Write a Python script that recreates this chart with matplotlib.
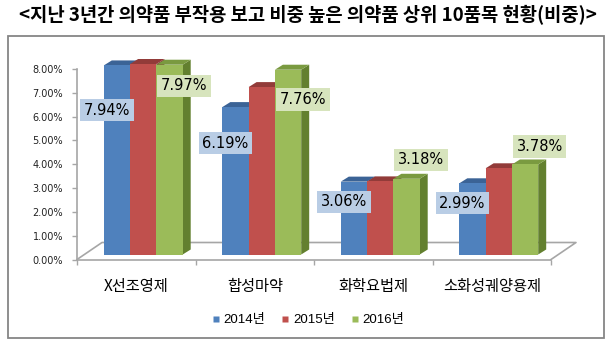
import matplotlib.pyplot as plt
from matplotlib.patches import Polygon, Rectangle
from matplotlib.lines import Line2D

# 의약품 부작용 보고 비중 (%)
categories = ['X선조영제', '합성마약', '화학요법제', '소화성궤양용제']
years = ['2014년', '2015년', '2016년']
share_2014 = [7.94, 6.19, 3.06, 2.99]
share_2015 = [8.00, 7.03, 3.07, 3.62]
share_2016 = [7.97, 7.76, 3.18, 3.78]
yticks = [0, 1, 2, 3, 4, 5, 6, 7, 8]

series = [share_2014, share_2015, share_2016]
# (앞면, 윗면, 옆면)
colors = [('#4f81bd', '#3b6396', '#345885'),
          ('#c0504d', '#923b39', '#833432'),
          ('#9bbb59', '#7a9a40', '#63802f')]
green_label_dy = [-0.68, -1.04, 1.00, 0.97]

W, H = 615, 343
fig = plt.figure(figsize=(W / 100, H / 100), dpi=100)
fig.patch.set_facecolor('white')

ax = fig.add_axes([77 / W, 1 - 259.5 / H, 474 / W, 190.5 / H])
ax.set_xlim(0, 4)
ax.set_ylim(0, 8)
ax.set_facecolor('none')

# 픽셀 -> 데이터 단위
px_x = 474 / 4
px_y = 190.5 / 8
def dx(p):
    return p / px_x
def dy(p):
    return p / px_y

grey = '#a6a6a6'

# 바닥면
fdx, fdy = dx(25), dy(17)
ax.plot([0, fdx, 4 + fdx, 4], [0, fdy, fdy, 0], color=grey, lw=1.2,
        clip_on=False, zorder=1)

# 3D 막대
bw = dx(26.3)
offx, offy = dx(7), dy(5)
ddx, ddy = dx(8), dy(5)
z = 2
for i in range(len(categories)):
    cx = i + 0.5 + offx
    for j, vals in enumerate(series):
        front, top, side = colors[j]
        x0 = cx - 1.5 * bw + j * bw
        y0 = offy
        h = vals[i]
        ax.add_patch(Polygon([(x0 + bw, y0), (x0 + bw + ddx, y0 + ddy),
                              (x0 + bw + ddx, y0 + h + ddy), (x0 + bw, y0 + h)],
                             facecolor=side, edgecolor='none', clip_on=False, zorder=z))
        ax.add_patch(Polygon([(x0, y0 + h), (x0 + bw, y0 + h),
                              (x0 + bw + ddx, y0 + h + ddy), (x0 + ddx, y0 + h + ddy)],
                             facecolor=top, edgecolor='none', clip_on=False, zorder=z))
        ax.add_patch(Rectangle((x0, y0), bw, h, facecolor=front, edgecolor='none',
                               clip_on=False, zorder=z + 0.5))
        z += 1

# 데이터 레이블 (2014, 2016)
for i in range(len(categories)):
    cx = i + 0.5 + offx
    blue_right = cx - 0.5 * bw
    ax.text(blue_right, share_2014[i] * 0.79, f'{share_2014[i]:.2f}%',
            ha='right', va='center', fontsize=10.5, color='black',
            bbox=dict(boxstyle='square,pad=0.25', fc='#b9cde5', ec='none'),
            zorder=50, clip_on=False)
    green_left = cx + 0.5 * bw
    ax.text(green_left + dx(4.6), share_2016[i] + green_label_dy[i],
            f'{share_2016[i]:.2f}%', ha='left', va='center', fontsize=10.5,
            color='black',
            bbox=dict(boxstyle='square,pad=0.25', fc='#d7e4bd', ec='none'),
            zorder=50, clip_on=False)

# 축
for s in ['top', 'right']:
    ax.spines[s].set_visible(False)
for s in ['left', 'bottom']:
    ax.spines[s].set_color(grey)
    ax.spines[s].set_linewidth(1.2)
    ax.spines[s].set_zorder(1)
ax.set_yticks(yticks, [f'{v:.2f}%' for v in yticks])
ax.tick_params(axis='y', length=3.6, width=1, color=grey, pad=6.5,
               labelsize=7, labelcolor='#222222')
ax.set_xticks([0, 1, 2, 3, 4], [])
ax.set_xticks([i + 0.5 for i in range(4)], categories, minor=True)
ax.tick_params(axis='x', which='major', length=3.6, width=1, color=grey)
ax.tick_params(axis='x', which='minor', length=0, pad=13.5, labelsize=11,
               labelcolor='black')
for lab in ax.get_xticklabels(minor=True):
    lab.set_family(['Noto Sans CJK KR', 'DejaVu Sans'])

# 범례
handles = [Line2D([], [], marker='s', ls='none', markersize=4.5,
                  markerfacecolor=c[0], markeredgecolor='none') for c in colors]
fig.legend(handles, years, loc='center', bbox_to_anchor=(308 / W, 1 - 320 / H),
           ncol=3, frameon=False, handlelength=0.6, handletextpad=0.3,
           columnspacing=1.2,
           prop={'family': ['Liberation Sans', 'Noto Sans CJK KR'], 'size': 9.5})

# 제목과 테두리
fig.text(0.5, 1 - 15 / H,
         '<지난 3년간 의약품 부작용 보고 비중 높은 의약품 상위 10품목 현황(비중)>',
         ha='center', va='center', fontsize=13.5, fontweight='bold',
         family=['Noto Sans CJK KR', 'DejaVu Sans'])
fig.add_artist(Rectangle((8 / W, 1 - 338 / H), 596 / W, 302 / H,
                         transform=fig.transFigure, fill=False,
                         edgecolor='#868686', lw=1.3))

fig.savefig('out.png', dpi=100)
